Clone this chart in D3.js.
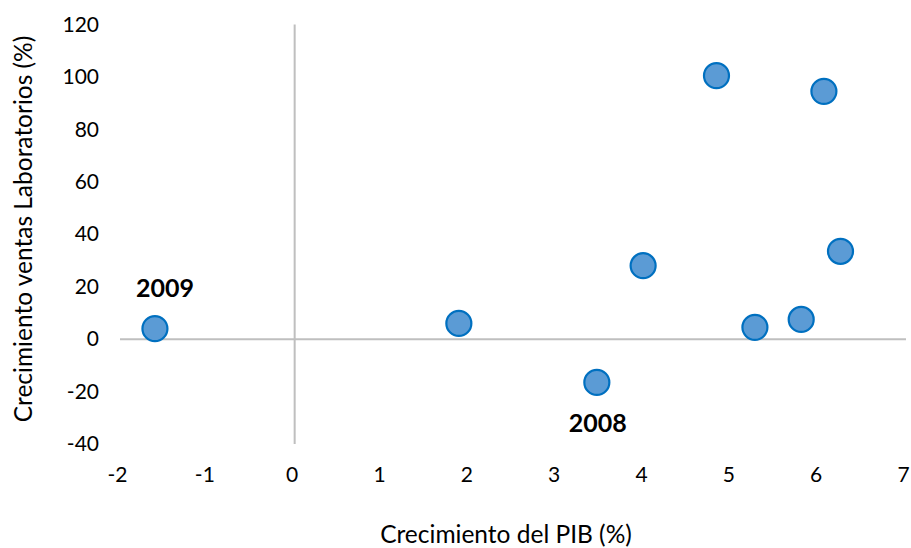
<!DOCTYPE html>
<html>
<head>
<meta charset="utf-8">
<script src="https://cdn.jsdelivr.net/npm/d3@7"></script>
<style>
  body { margin: 0; background: #fff; }
  svg text { font-family: Lato, "Open Sans", sans-serif; fill: #000; }
</style>
</head>
<body>
<script>
// datos
var pib    = [-1.6, 1.88, 3.46, 3.99, 4.83, 5.27, 5.80, 6.06, 6.25];
var ventas = [4, 6, -16.5, 28, 100.5, 4.5, 7.5, 94.5, 33.5];
var etiquetas = [{ i: 0, text: "2009" }, { i: 2, text: "2008" }];
var xTicks = [-2, -1, 0, 1, 2, 3, 4, 5, 6, 7];
var yTicks = [-40, -20, 0, 20, 40, 60, 80, 100, 120];

var width = 911, height = 548;
var margin = { top: 24.5, right: 5, bottom: 104, left: 120 };

var svg = d3.select('body').append('svg')
    .attr('width', width)
    .attr('height', height);

var x = d3.scaleLinear().domain([-2, 7]).range([margin.left, width - margin.right]);
var y = d3.scaleLinear().domain([-40, 120]).range([height - margin.bottom, margin.top]);

// ejes cruzados en (0,0)
svg.append('line')
    .attr('x1', x(-2)).attr('x2', x(7))
    .attr('y1', y(0)).attr('y2', y(0))
    .attr('stroke', '#bfbfbf').attr('stroke-width', 2);
svg.append('line')
    .attr('x1', x(0)).attr('x2', x(0))
    .attr('y1', y(120)).attr('y2', y(-40))
    .attr('stroke', '#bfbfbf').attr('stroke-width', 2);

// etiquetas de los ejes
var yAxis = d3.axisLeft(y).tickValues(yTicks).tickSize(0).tickPadding(21)
    .tickFormat(function(d) { return String(d); });
var gy = svg.append('g').attr('transform', 'translate(' + x(-2) + ',0)').call(yAxis);

var xAxis = d3.axisBottom(x).tickValues(xTicks).tickSize(0).tickPadding(23)
    .tickFormat(function(d) { return String(d); });
var gx = svg.append('g').attr('transform', 'translate(0,' + y(-40) + ')').call(xAxis);
gx.selectAll('text').attr('dx', -3);

[gx, gy].forEach(function(g) {
    g.select('.domain').remove();
    g.selectAll('text').style('font-size', '21px').style('font-family', 'Lato, sans-serif').attr('fill', '#000');
});

// puntos
svg.selectAll('circle.pt').data(pib)
    .enter().append('circle')
    .attr('class', 'pt')
    .attr('cx', function(d) { return x(d); })
    .attr('cy', function(d, i) { return y(ventas[i]); })
    .attr('r', 12.5)
    .attr('fill', '#5b9bd5')
    .attr('stroke', '#0070c0')
    .attr('stroke-width', 2.2);

// etiquetas de años
svg.selectAll('text.anio').data(etiquetas)
    .enter().append('text')
    .attr('class', 'anio')
    .attr('x', function(d) { return x(pib[d.i]) + (d.i === 0 ? 10 : 1); })
    .attr('y', function(d) { return y(ventas[d.i]) + (d.i === 0 ? -32 : 50); })
    .attr('text-anchor', 'middle')
    .style('font-size', '25px')
    .style('font-weight', 'bold')
    .text(function(d) { return d.text; });

// titulos
svg.append('text')
    .attr('x', (x(-2) + x(7)) / 2 - 7)
    .attr('y', 543)
    .attr('text-anchor', 'middle')
    .style('font-size', '24.5px')
    .text('Crecimiento del PIB (%)');

svg.append('text')
    .attr('transform', 'translate(32,' + 229 + ') rotate(-90)')
    .attr('text-anchor', 'middle')
    .style('font-size', '24.5px')
    .text('Crecimiento ventas Laboratorios (%)');
</script>
</body>
</html>
